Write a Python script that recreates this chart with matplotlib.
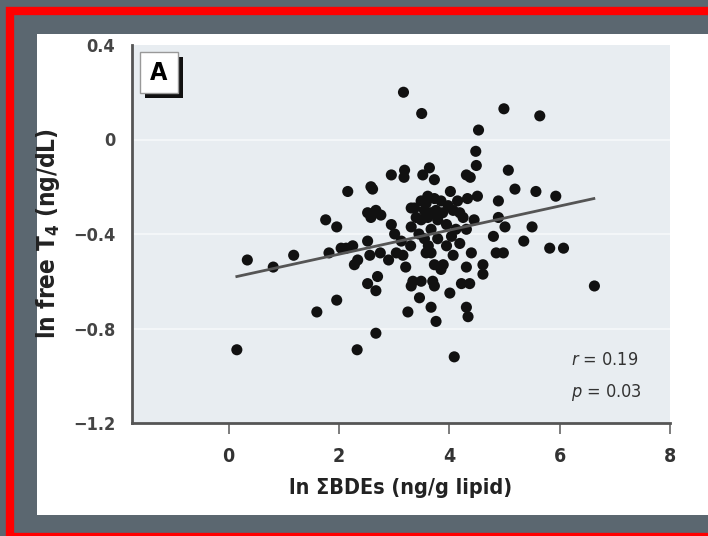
import numpy as np
import matplotlib
matplotlib.use("Agg")
import matplotlib.pyplot as plt
from matplotlib.patches import Rectangle

# fonts - condensed cut of DejaVu for the narrow journal look
plt.rcParams['font.family'] = ['DejaVu Sans']
plt.rcParams['font.stretch'] = 'condensed'
plt.rcParams['mathtext.fontset'] = 'custom'
plt.rcParams['mathtext.rm'] = 'DejaVu Sans'
plt.rcParams['mathtext.it'] = 'DejaVu Sans:italic'
plt.rcParams['mathtext.bf'] = 'DejaVu Sans:bold'

# DATA
ln_bde = [0.15, 0.34, 0.81, 1.18, 1.60, 1.76, 1.96, 1.82, 1.96, 2.04, 2.13, 2.16,
          2.25, 2.28, 2.34, 2.33, 2.52, 2.56, 2.58, 2.61, 2.52, 2.67, 2.76, 2.58,
          2.75, 2.70, 2.52, 2.67, 2.67, 2.90, 2.95, 2.95, 3.04, 3.01, 3.13, 3.17,
          3.19, 3.18, 3.50, 3.52, 3.64, 3.73, 3.16, 3.21, 3.31, 3.49, 3.61, 3.73,
          3.85, 3.37, 3.55, 3.67, 3.76, 3.98, 4.07, 4.19, 4.25, 3.49, 3.61, 3.79,
          3.31, 3.67, 3.55, 3.79, 4.04, 4.19, 3.67, 3.58, 4.07, 3.89, 3.73, 3.85,
          3.34, 3.49, 3.70, 3.73, 3.31, 3.46, 3.25, 3.67, 3.76, 4.01, 4.09, 4.02,
          4.31, 4.38, 4.49, 4.48, 4.53, 4.33, 4.51, 4.31, 4.45, 4.40, 4.31, 4.22,
          4.37, 4.31, 4.34, 4.61, 4.61, 4.80, 4.85, 4.98, 4.89, 4.89, 5.01, 4.99,
          5.07, 5.19, 5.57, 5.93, 5.50, 5.35, 5.64, 5.82, 6.07, 6.63,
          3.40, 3.58, 3.95, 4.12, 3.88, 3.45, 3.62, 4.15, 3.30, 3.95]
ln_ft4 = [-0.89, -0.51, -0.54, -0.49, -0.73, -0.34, -0.37, -0.48, -0.68, -0.46, -0.46, -0.22,
          -0.45, -0.53, -0.51, -0.89, -0.43, -0.49, -0.20, -0.21, -0.31, -0.30, -0.32, -0.33,
          -0.48, -0.58, -0.61, -0.64, -0.82, -0.51, -0.15, -0.36, -0.48, -0.40, -0.43, 0.20,
          -0.13, -0.16, 0.11, -0.15, -0.12, -0.17, -0.49, -0.54, -0.29, -0.26, -0.24, -0.25,
          -0.26, -0.29, -0.30, -0.31, -0.30, -0.28, -0.30, -0.31, -0.33, -0.34, -0.33, -0.34,
          -0.37, -0.38, -0.42, -0.42, -0.41, -0.44, -0.48, -0.48, -0.49, -0.53, -0.53, -0.55,
          -0.60, -0.60, -0.60, -0.62, -0.62, -0.67, -0.73, -0.71, -0.77, -0.65, -0.92, -0.22,
          -0.15, -0.16, -0.11, -0.05, 0.04, -0.25, -0.24, -0.38, -0.34, -0.48, -0.54, -0.61,
          -0.61, -0.71, -0.75, -0.53, -0.57, -0.41, -0.48, -0.48, -0.26, -0.33, -0.37, 0.13,
          -0.13, -0.21, -0.22, -0.24, -0.37, -0.43, 0.10, -0.46, -0.46, -0.62,
          -0.33, -0.27, -0.36, -0.38, -0.31, -0.40, -0.45, -0.26, -0.45, -0.45]

fit_x = [0.15, 6.62]
fit_y = [-0.58, -0.25]

x_ticks = [0, 2, 4, 6, 8]
y_ticks = [0.4, 0, -0.4, -0.8, -1.2]
y_ticklabels = ['0.4', '0', '\u22120.4', '\u22120.8', '\u22121.2']
stats_text = ['$\\it{r}$ = 0.19', '$\\it{p}$ = 0.03']

# FIGURE
fig = plt.figure(figsize=(7.08, 5.36), dpi=100)
fig.patch.set_facecolor('#5b6770')

# red frame and white panel behind the chart
fig.add_artist(Rectangle((9.5/708, -0.5/536), 0.99, 526/536, transform=fig.transFigure,
                         fill=False, edgecolor='#ff0000', linewidth=6, zorder=-2))
fig.add_artist(Rectangle((37/708, 21/536), 671/708, 481/536, transform=fig.transFigure,
                         facecolor='white', edgecolor='none', zorder=-1))

ax = fig.add_axes([132/708, 113/536, 538/708, 378/536])
ax.set_zorder(1)
ax.set_facecolor('#e8edf1')

for yy in [0, -0.4, -0.8]:
    ax.axhline(yy, color='#f6f8fa', lw=1.2, zorder=1)

ax.scatter(ln_bde, ln_ft4, s=64, color='#111111', edgecolors='none', zorder=3)
ax.plot(fit_x, fit_y, color='#555555', lw=2, zorder=4)

ax.set_xlim(-1.75, 8)
ax.set_ylim(-1.2, 0.4)
ax.set_xticks(x_ticks)
ax.set_xticklabels([str(t) for t in x_ticks], fontsize=14, fontweight='bold', color='#333333')
ax.set_yticks(y_ticks)
ax.set_yticklabels(y_ticklabels, fontsize=13, fontweight='bold', color='#444444')
ax.tick_params(axis='x', direction='out', length=8, width=1.2, color='#666666', pad=9)
ax.tick_params(axis='y', length=0, pad=12)

ax.spines['top'].set_visible(False)
ax.spines['right'].set_visible(False)
ax.spines['left'].set_color('#555555')
ax.spines['bottom'].set_color('#555555')
ax.spines['left'].set_linewidth(2)
ax.spines['bottom'].set_linewidth(2)

ax.set_xlabel('ln \u03a3BDEs (ng/g lipid)', fontsize=15.5, fontweight='bold', color='#222222', labelpad=9)
ax.set_ylabel('ln free T$_\\mathbf{4}$ (ng/dL)', fontsize=17.5, fontweight='bold', color='#222222', labelpad=8)

# panel letter box with shadow
ax.add_patch(Rectangle((0.024, 0.860), 0.071, 0.108, transform=ax.transAxes,
                       facecolor='#111111', edgecolor='none', zorder=5, clip_on=False))
ax.add_patch(Rectangle((0.015, 0.873), 0.071, 0.108, transform=ax.transAxes,
                       facecolor='white', edgecolor='#999999', lw=1, zorder=6, clip_on=False))
ax.text(0.050, 0.926, 'A', transform=ax.transAxes, fontsize=18, fontweight='bold',
        ha='center', va='center', zorder=7)

ax.text(6.2, -0.935, stats_text[0], fontsize=13, color='#333333', ha='left', va='center')
ax.text(6.2, -1.07, stats_text[1], fontsize=13, color='#333333', ha='left', va='center')

fig.savefig('out.png', dpi=100, facecolor=fig.get_facecolor())
